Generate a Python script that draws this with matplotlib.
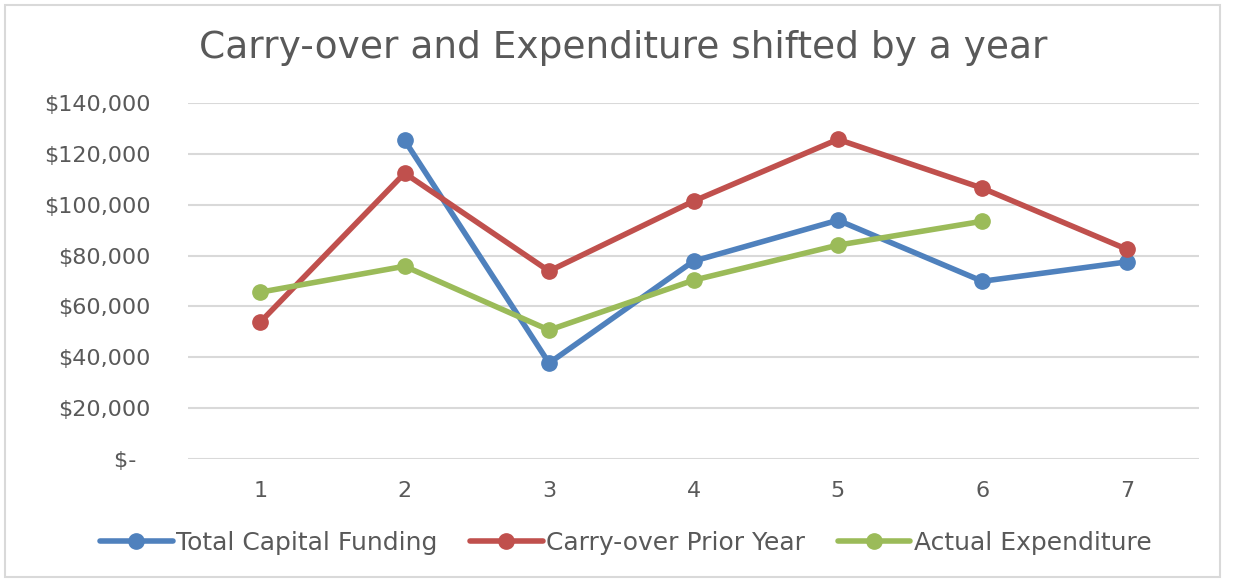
import matplotlib
matplotlib.use("Agg")
import matplotlib.pyplot as plt
from matplotlib.patches import Rectangle
from matplotlib.ticker import FuncFormatter
import numpy as np

categories = [1, 2, 3, 4, 5, 6, 7]
total_capital_funding = [np.nan, 125300, 37700, 77800, 93900, 69900, 77500]
carry_over_prior_year = [53800, 112400, 73900, 101400, 125700, 106500, 82500]
actual_expenditure = [65600, 75800, 50700, 70300, 84100, 93500, np.nan]
series_names = ["Total Capital Funding", "Carry-over Prior Year", "Actual Expenditure"]
title = "Carry-over and Expenditure shifted by a year"

colors = ["#4F81BD", "#C0504D", "#9BBB59"]
FONT = ["DejaVu Sans"]
TXT = "#595959"

fig = plt.figure(figsize=(12.33, 5.82), dpi=100)
ax = fig.add_axes([188/1233, 1-459/582, (1199-188)/1233, (459-103)/582])

x = np.arange(len(categories))
for vals, name, c in zip([total_capital_funding, carry_over_prior_year, actual_expenditure], series_names, colors):
    ax.plot(x, vals, color=c, lw=4.0, marker="o", ms=11, label=name, solid_capstyle="round", zorder=3)

ax.set_xlim(-0.5, len(categories) - 0.5)
ax.set_ylim(0, 140000)
ax.set_yticks(np.arange(0, 140001, 20000))
ax.yaxis.set_major_formatter(FuncFormatter(lambda v, p: "$-  " if v == 0 else f"${v:,.0f}"))
ax.set_xticks(x)
ax.set_xticklabels([str(c) for c in categories])
ax.grid(axis="y", color="#D9D9D9", lw=1.5, zorder=0)
for s in ax.spines.values():
    s.set_visible(False)
ax.tick_params(length=0, labelsize=16, labelcolor=TXT)
ax.tick_params(axis="y", pad=27)
ax.tick_params(axis="x", pad=16)
for lab in ax.get_xticklabels() + ax.get_yticklabels():
    lab.set_family(FONT)

fig.text(623/1233, 1-48/582, title, ha="center", va="center", fontsize=27, color=TXT, family=FONT)

leg = fig.legend(loc="center", bbox_to_anchor=(626/1233, 1-543/582), ncol=3, frameon=False,
                 prop={"family": FONT, "size": 18}, handlelength=2.9, handletextpad=0.15,
                 columnspacing=1.3)
for t in leg.get_texts():
    t.set_color(TXT)

fig.patches.append(Rectangle((5/1233, 5/582), 1-10/1233 - 8/1233, 1-10/582, transform=fig.transFigure,
                             fill=False, edgecolor="#D9D9D9", lw=1.5))

fig.savefig("out.png", dpi=100, facecolor="white")
